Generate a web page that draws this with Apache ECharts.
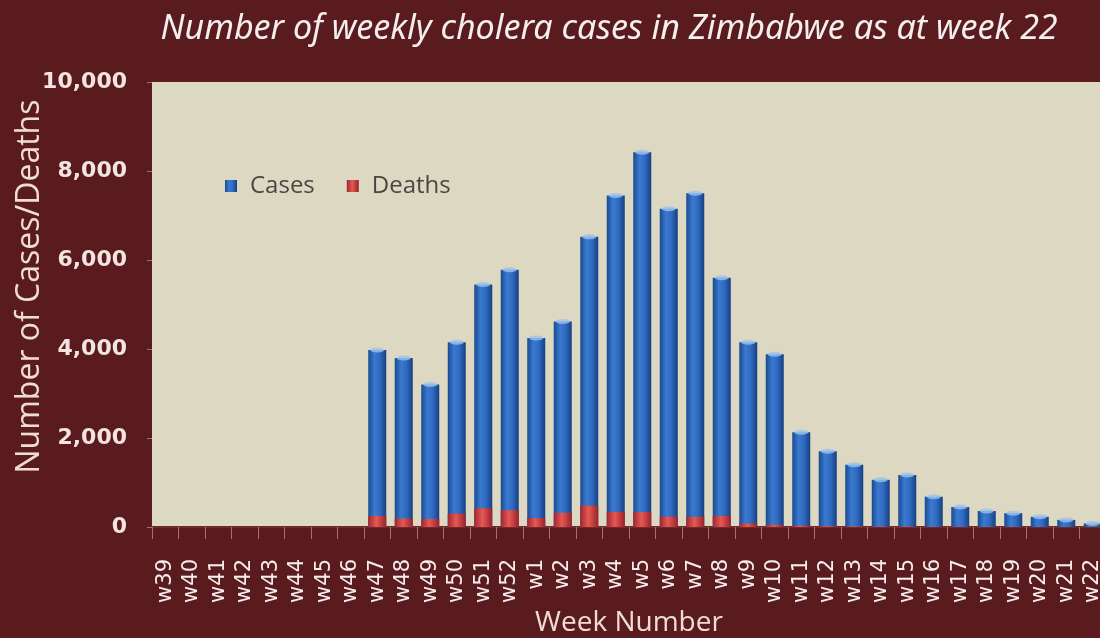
<!DOCTYPE html>
<html>
<head>
<meta charset="utf-8">
<script src="https://cdn.jsdelivr.net/npm/echarts@6/dist/echarts.min.js"></script>
<style>
  html, body { margin: 0; padding: 0; background: #5a1b1f; }
  #chart { width: 1100px; height: 638px; }
</style>
</head>
<body>
<div id="chart"></div>
<script>
// week labels w39..w52 then w1..w22
const weeks = ['w39','w40','w41','w42','w43','w44','w45','w46','w47','w48','w49','w50','w51','w52',
  'w1','w2','w3','w4','w5','w6','w7','w8','w9','w10','w11','w12','w13','w14','w15','w16','w17',
  'w18','w19','w20','w21','w22']

const cases = [0, 0, 0, 0, 0, 0, 0, 0, 3980, 3800, 3200, 4150, 5450, 5780,
  4250, 4620, 6520, 7450, 8420, 7150, 7500, 5600, 4150, 3880, 2130, 1700, 1400,
  1060, 1170, 680, 450, 360, 310, 230, 160, 80]

const deaths = [0, 0, 0, 0, 0, 0, 0, 0, 250, 190, 180, 300, 420, 380,
  200, 320, 480, 340, 340, 230, 230, 250, 80, 50, 30, 20, 15,
  10, 10, 5, 5, 3, 3, 2, 2, 1]

const yTicks = [0, 2000, 4000, 6000, 8000, 10000]

const chart = echarts.init(document.getElementById('chart'))

const option = {
  backgroundColor: '#5a1b1f',
  animation: false,
  title: {
    text: 'Number of weekly cholera cases in Zimbabwe as at week 22',
    left: 604,
    textAlign: 'center',
    top: 7,
    textStyle: {
      color: '#f4eeee',
      fontFamily: 'Noto Sans',
      fontStyle: 'italic',
      fontWeight: 'normal',
      fontSize: 34
    }
  },
  legend: {
    data: ['Cases', 'Deaths'],
    left: 220,
    top: 169,
    itemWidth: 12,
    itemHeight: 12,
    itemGap: 32,
    icon: 'rect',
    textStyle: { color: '#474743', fontSize: 24, fontFamily: 'Open Sans', padding: [0, 0, 0, 8] }
  },
  grid: {
    left: 152,
    top: 82,
    right: -6,
    bottom: 111,
    outerBoundsMode: 'none',
    show: true,
    backgroundColor: '#dcd8c1',
    borderWidth: 0
  },
  xAxis: {
    type: 'category',
    data: weeks,
    name: 'Week Number',
    nameLocation: 'middle',
    nameGap: 82,
    nameMoveOverlap: false,
    nameTextStyle: { color: '#f0dcd6', fontSize: 28, fontFamily: 'Open Sans' },
    axisLine: { lineStyle: { color: '#6e2a2c', width: 2 } },
    axisTick: { show: true, length: 12, lineStyle: { color: '#a8706c' } },
    axisLabel: {
      rotate: 90,
      interval: 0,
      margin: 32,
      color: '#f6eeee',
      fontSize: 21,
      fontFamily: 'DejaVu Sans'
    }
  },
  yAxis: {
    type: 'value',
    min: yTicks[0],
    max: yTicks[yTicks.length - 1],
    interval: 2000,
    name: 'Number of Cases/Deaths',
    nameLocation: 'middle',
    nameGap: 106,
    nameMoveOverlap: false,
    nameTextStyle: { color: '#f0dcd6', fontSize: 32, fontFamily: 'Open Sans', padding: [0, 0, 0, 36] },
    axisLine: { show: false },
    axisTick: { show: true, length: 5, lineStyle: { color: '#a8706c' } },
    splitLine: { show: false },
    axisLabel: {
      margin: 25,
      color: '#f3e4e0',
      fontSize: 22,
      fontWeight: 'bold',
      fontFamily: 'DejaVu Sans',
      formatter: v => v.toLocaleString('en-US')
    }
  },
  series: [
    {
      name: 'Cases',
      type: 'bar',
      barWidth: 18,
      barGap: '-100%',
      data: cases,
      itemStyle: {
        color: new echarts.graphic.LinearGradient(0, 0, 1, 0, [
          { offset: 0, color: '#1a4a90' },
          { offset: 0.35, color: '#3a7ad0' },
          { offset: 0.65, color: '#2f6ac0' },
          { offset: 1, color: '#173f80' }
        ])
      }
    },
    {
      name: 'Deaths',
      type: 'bar',
      barWidth: 18,
      barGap: '-100%',
      data: deaths,
      itemStyle: {
        color: new echarts.graphic.LinearGradient(0, 0, 1, 0, [
          { offset: 0, color: '#a32430' },
          { offset: 0.45, color: '#e45a52' },
          { offset: 1, color: '#9c202c' }
        ])
      }
    },
    {
      // light caps on top of the case columns
      name: 'cap',
      type: 'scatter',
      data: cases.map(v => (v > 0 ? v : null)),
      symbol: 'circle',
      symbolSize: [14, 5],
      itemStyle: { color: '#9cc2ec' },
      z: 5
    }
  ],
  color: ['#2f6ac0', '#c0333b']
}

chart.setOption(option)
</script>
</body>
</html>
